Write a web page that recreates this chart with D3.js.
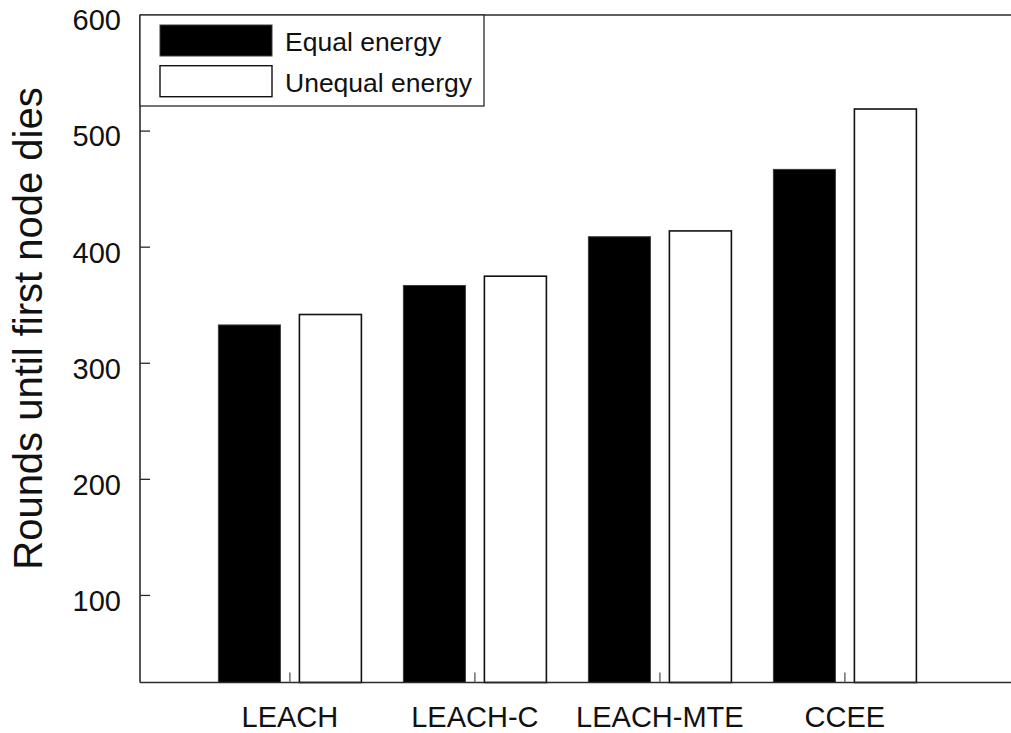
<!DOCTYPE html>
<html>
<head>
<meta charset="utf-8">
<script src="https://cdn.jsdelivr.net/npm/d3@7/dist/d3.min.js"></script>
<style>
  html, body { margin: 0; padding: 0; background: #fff; }
  svg { display: block; font-family: "Liberation Sans", Arial, Helvetica, sans-serif; }
</style>
</head>
<body>
<svg id="chart" width="1011" height="733"></svg>
<script>
// Protocols compared
const categories = ["LEACH", "LEACH-C", "LEACH-MTE", "CCEE"];
// Series names (legend order)
const seriesNames = ["Equal energy", "Unequal energy"];
// Rounds until the first node dies
const equalEnergy = [333, 367, 409, 467];
const unequalEnergy = [342, 375, 414, 519];
// Y axis ticks
const yTicks = [100, 200, 300, 400, 500, 600];
const yDomain = [25, 600];

const svg = d3.select("#chart");

const frame = { left: 140, right: 1011, top: 15, bottom: 682.5 };

const y = d3.scaleLinear().domain(yDomain).range([frame.bottom, frame.top]);
const x = d3.scaleBand().domain(categories).range([197.4, 937.4]);
const xs = d3.scaleBand().domain(seriesNames).range([-71.5, 71.5]).paddingInner(0.2346);

const rows = categories.map((c, i) => ({
  cat: c,
  vals: [
    { s: seriesNames[0], v: equalEnergy[i] },
    { s: seriesNames[1], v: unequalEnergy[i] }
  ]
}));

// Bars
const g = svg.append("g");
rows.forEach(r => {
  const cx = x(r.cat) + x.bandwidth() / 2;
  r.vals.forEach(d => {
    const isEq = d.s === seriesNames[0];
    g.append("rect")
      .attr("x", cx + xs(d.s))
      .attr("y", y(d.v))
      .attr("width", xs.bandwidth())
      .attr("height", y(yDomain[0]) - y(d.v))
      .attr("fill", isEq ? "#000" : "#fff")
      .attr("stroke", isEq ? "#3a3a3a" : "#111")
      .attr("stroke-width", isEq ? 1 : 1.6);
  });
});

// Frame lines
const axisColor = "#2a2a2a";
svg.append("line").attr("x1", frame.left).attr("x2", frame.left)
  .attr("y1", frame.top).attr("y2", frame.bottom)
  .attr("stroke", axisColor).attr("stroke-width", 1.6);
svg.append("line").attr("x1", frame.left).attr("x2", frame.right)
  .attr("y1", frame.bottom).attr("y2", frame.bottom)
  .attr("stroke", axisColor).attr("stroke-width", 1.6);
svg.append("line").attr("x1", frame.left).attr("x2", frame.right)
  .attr("y1", frame.top).attr("y2", frame.top)
  .attr("stroke", axisColor).attr("stroke-width", 1.6);

// Y ticks (inward) and labels
yTicks.forEach(t => {
  const ty = y(t);
  if (t < yDomain[1]) {
    svg.append("line").attr("x1", frame.left).attr("x2", frame.left + 10)
      .attr("y1", ty).attr("y2", ty)
      .attr("stroke", axisColor).attr("stroke-width", 1.3);
  }
  svg.append("text")
    .attr("x", 121).attr("y", ty + 15.4)
    .attr("text-anchor", "end")
    .attr("font-size", 29)
    .attr("fill", "#111")
    .text(t);
});

// X ticks (inward) and labels
categories.forEach(c => {
  const cx = x(c) + x.bandwidth() / 2;
  svg.append("line").attr("x1", cx).attr("x2", cx)
    .attr("y1", frame.bottom).attr("y2", frame.bottom - 10)
    .attr("stroke", "#555").attr("stroke-width", 1.3);
  svg.append("text")
    .attr("x", cx).attr("y", 727)
    .attr("text-anchor", "middle")
    .attr("font-size", 29)
    .attr("fill", "#111")
    .text(c);
});

// Y axis title
svg.append("text")
  .attr("transform", "translate(42,328.5) rotate(-90)")
  .attr("text-anchor", "middle")
  .attr("font-size", 40)
  .attr("fill", "#111")
  .text("Rounds until first node dies");

// Legend
const lg = svg.append("g");
lg.append("rect").attr("x", frame.left).attr("y", frame.top)
  .attr("width", 344).attr("height", 91)
  .attr("fill", "#fff").attr("stroke", axisColor).attr("stroke-width", 1.3);
seriesNames.forEach((s, i) => {
  const sy = 25 + i * 40.7;
  lg.append("rect").attr("x", 160).attr("y", sy)
    .attr("width", 112).attr("height", 31)
    .attr("fill", i === 0 ? "#000" : "#fff")
    .attr("stroke", i === 0 ? "#3a3a3a" : "#111")
    .attr("stroke-width", i === 0 ? 1 : 1.4);
  lg.append("text").attr("x", 285).attr("y", 50.7 + i * 41)
    .attr("font-size", 26.5)
    .attr("fill", "#111")
    .text(s);
});
</script>
</body>
</html>
